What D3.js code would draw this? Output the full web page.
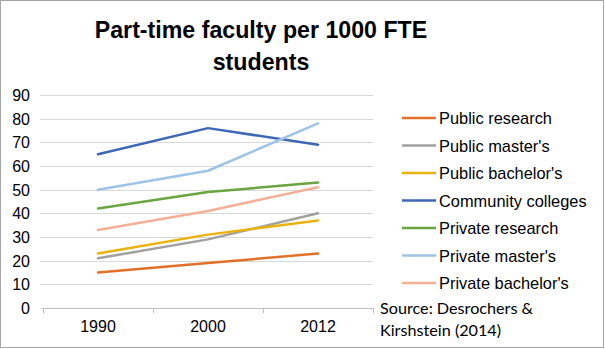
<!DOCTYPE html>
<html><head><meta charset="utf-8">
<script src="https://cdn.jsdelivr.net/npm/d3@7"></script>
<style>body{margin:0;background:#fff}svg{display:block}</style>
</head><body>
<svg id="c" width="605" height="349"></svg>
<script>
const years = ["1990", "2000", "2012"];
const seriesNames = ["Public research", "Public master's", "Public bachelor's", "Community colleges", "Private research", "Private master's", "Private bachelor's"];
const publicResearch = [15, 19, 23];
const publicMasters = [21, 29, 40];
const publicBachelors = [23, 31, 37];
const communityColleges = [65, 76, 69];
const privateResearch = [42, 49, 53];
const privateMasters = [50, 58, 78];
const privateBachelors = [33, 41, 51];
const yTicks = [0, 10, 20, 30, 40, 50, 60, 70, 80, 90];
const colors = ["#E2702A", "#A0A0A0", "#EAB20E", "#3E67B5", "#69A540", "#9DC3E6", "#F4B096"];
const values = [publicResearch, publicMasters, publicBachelors, communityColleges, privateResearch, privateMasters, privateBachelors];

(function () {
const svg = d3.select("#c");
const FONT = "Liberation Sans, Arial, sans-serif";
svg.append("rect").attr("x", 0.5).attr("y", 0.5).attr("width", 603).attr("height", 347)
  .attr("fill", "#fff").attr("stroke", "#a6a6a6");

const title = svg.append("text").attr("text-anchor", "middle")
  .attr("font-family", FONT).attr("font-weight", "bold")
  .attr("font-size", 23.2).attr("fill", "#000");
title.append("tspan").attr("x", 261).attr("y", 38).text("Part-time faculty per 1000 FTE");
title.append("tspan").attr("x", 261).attr("y", 70).text("students");

const pLeft = 43, pRight = 373, pTop = 95, pBottom = 308;
const x = d3.scaleBand().domain(years).range([pLeft, pRight]);
const y = d3.scaleLinear().domain([0, 90]).range([pBottom, pTop]);

svg.append("g").selectAll("line").data(yTicks).join("line")
  .attr("x1", pLeft - 3).attr("x2", pRight)
  .attr("y1", d => Math.round(y(d)) + 0.5).attr("y2", d => Math.round(y(d)) + 0.5)
  .attr("stroke", "#d9d9d9").attr("stroke-width", 1);

svg.append("g").selectAll("text").data(yTicks).join("text")
  .attr("x", 30).attr("y", d => y(d) + 6).attr("text-anchor", "end")
  .attr("font-family", FONT).attr("font-size", 16)
  .attr("fill", "#000").text(d => d);

const xAxis = svg.append("g").attr("transform", `translate(0,${Math.round(pBottom) + 0.5})`)
  .call(d3.axisBottom(x).tickSize(0).tickPadding(12));
xAxis.select(".domain").remove();
xAxis.selectAll("text").attr("font-family", FONT)
  .attr("font-size", 16).attr("fill", "#000");
const bounds = [pLeft].concat(years.map(d => x(d) + x.bandwidth()));
svg.append("g").selectAll("line").data(bounds).join("line")
  .attr("x1", d => Math.round(d) + 0.5).attr("x2", d => Math.round(d) + 0.5)
  .attr("y1", pBottom).attr("y2", pBottom + 5).attr("stroke", "#bfbfbf");
svg.append("line").attr("x1", pLeft).attr("x2", pRight)
  .attr("y1", Math.round(pBottom) + 0.5).attr("y2", Math.round(pBottom) + 0.5).attr("stroke", "#bfbfbf");

const line = d3.line().x((d, i) => x(years[i]) + x.bandwidth() / 2).y(d => y(d));
svg.append("g").selectAll("path").data(values).join("path")
  .attr("d", d => line(d)).attr("fill", "none")
  .attr("stroke", (d, i) => colors[i]).attr("stroke-width", 2.5)
  .attr("stroke-linejoin", "round").attr("stroke-linecap", "round");

const lg = svg.append("g").selectAll("g").data(seriesNames).join("g")
  .attr("transform", (d, i) => `translate(402,${118 + i * 27.5})`);
lg.append("line").attr("x1", 0).attr("x2", 34).attr("y1", 0).attr("y2", 0)
  .attr("stroke", (d, i) => colors[i]).attr("stroke-width", 2.5);
lg.append("text").attr("x", 37).attr("y", 6).attr("font-family", FONT)
  .attr("font-size", 16.4).attr("fill", "#000").text(d => d);

const src = svg.append("text").attr("font-family", "Lato, Open Sans, sans-serif").attr("font-size", 16.2).attr("fill", "#000");
src.append("tspan").attr("x", 380).attr("y", 314).text("Source: Desrochers &");
src.append("tspan").attr("x", 380).attr("y", 336).text("Kirshstein (2014)");
})();
</script>
</body></html>
